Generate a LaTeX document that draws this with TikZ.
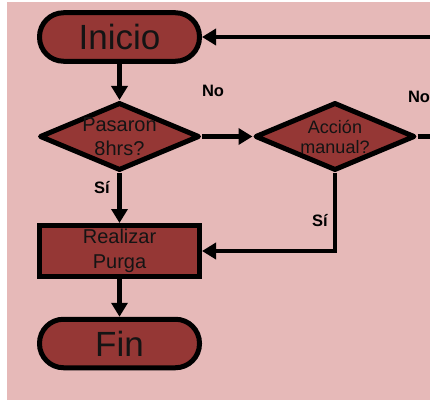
\documentclass[tikz,border=0pt]{standalone}
\usepackage{fontspec}
\setmainfont{Liberation Sans}
\usetikzlibrary{shapes.geometric,arrows.meta}
\definecolor{bgpink}{HTML}{E6B9B8}
\definecolor{boxred}{HTML}{953735}
\definecolor{inktext}{HTML}{141414}
\begin{document}
\begin{tikzpicture}[x=1pt,y=-1pt,
  terminal/.style={rectangle, draw=black, fill=boxred, line width=5pt,
    rounded corners=24pt, minimum width=160pt, minimum height=48.5pt,
    inner sep=0pt, text=inktext, font=\fontsize{35}{40}\selectfont},
  decision/.style={diamond, draw=black, fill=boxred, line width=5pt,
    line join=round, minimum width=160pt, minimum height=68pt,
    inner sep=0pt},
  dtext/.style={align=center, text=inktext},
  process/.style={rectangle, draw=black, fill=boxred, line width=5pt,
    minimum width=160pt, minimum height=51pt, inner sep=0pt,
    align=center, text=inktext, font=\fontsize{20}{25}\selectfont},
  flow/.style={line width=4.5pt, draw=black, -{Triangle[length=14pt,width=16pt]}},
  lbl/.style={text=black, font=\bfseries\fontsize{16.5}{18}\selectfont}
]
\clip (0,0) rectangle (430,404);
\fill[white] (0,0) rectangle (430,404);
\fill[bgpink] (7,2) rectangle (430,400);

% shapes
\node[terminal] (ini) at (119.5,37) {Inicio};
\node[decision,
  label={[dtext, font=\fontsize{20}{24}\selectfont]center:{Pasaron\\8hrs?}}]
  (d1) at (119.5,136.5) {};
\node[decision,
  label={[dtext, font=\fontsize{18}{20}\selectfont]center:{Acción\\manual?}}]
  (d2) at (335,136.5) {};
\node[process] (proc) at (119.5,251) {Realizar\\Purga};
\node[terminal] (fin) at (119.5,343.5) {Fin};

% loop-back corner beyond the right edge
\coordinate (back) at (437,136.5);

% connectors
\draw[flow] (ini) -- (d1);
\draw[flow] (d1) -- (d2);
\draw[flow] (d1) -- (proc);
\draw[flow] (proc) -- (fin);
\draw[flow] (d2.south) |- (proc.east);
\draw[flow] (d2.east) -- (back) |- (ini.east);

% branch labels
\node[lbl] (no1) at (213,91) {No};
\node[lbl] (no2) at (419,97) {No};
\node[lbl] (si1) at (102,188) {Sí};
\node[lbl] (si2) at (320,221) {Sí};
\end{tikzpicture}
\end{document}
